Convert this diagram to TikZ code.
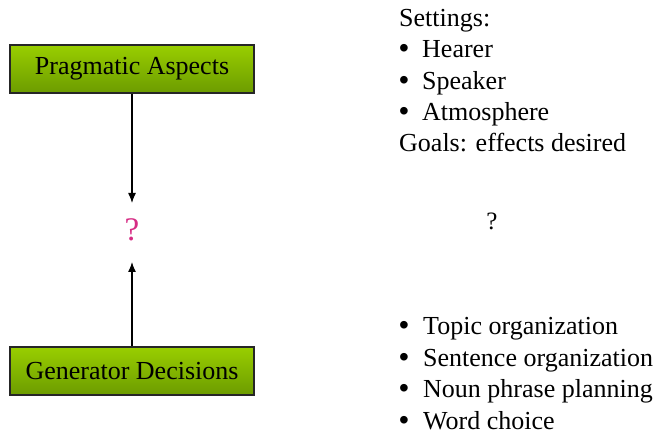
\documentclass[tikz,border=0pt]{standalone}
\usepackage{fontspec}
\setmainfont{Liberation Serif}
\newfontfamily\bulfont{Liberation Sans}
\usetikzlibrary{arrows.meta}
\definecolor{boxtop}{RGB}{153,206,0}
\definecolor{boxbot}{RGB}{108,156,0}
\definecolor{qpink}{RGB}{214,44,132}
\tikzset{
  greenbox/.style={draw=black!85, line width=1.3pt, top color=boxtop, bottom color=boxbot,
    minimum width=244pt, minimum height=48pt, inner sep=0pt,
    font=\fontsize{26}{30}\selectfont},
  txt/.style={anchor=base west, inner sep=0pt, font=\fontsize{26}{30}\selectfont},
  bul/.style={anchor=base, inner sep=0pt, font=\bulfont\fontsize{28}{30}\selectfont},
  conn/.style={line width=1.3pt, -{Latex[length=10pt,width=8pt]}},
}
\begin{document}
\begin{tikzpicture}[x=1pt,y=-1pt]
\useasboundingbox (0,0) rectangle (659,435);
\node[greenbox] (pa) at (132,69) {Pragmatic Aspects};
\node[greenbox] (gd) at (132,371) {Generator Decisions};
\node[inner sep=0pt, anchor=base, text=qpink, font=\fontsize{33}{36}\selectfont] (q) at (132,241) {?};
\coordinate (qt) at (132,203);
\coordinate (qb) at (132,262);
\draw[conn] (pa.south) -- (qt);
\draw[conn] (gd.north) -- (qb);
\node[inner sep=0pt, anchor=base, font=\fontsize{25}{28}\selectfont] (q2) at (492,230) {?};
% top list
\node[txt] (s) at (399,27) {Settings:};
\node[bul] (b1) at (404,58) {•};
\node[txt] (h) at (422,58) {Hearer};
\node[bul] (b2) at (404,90) {•};
\node[txt] (sp) at (422,90) {Speaker};
\node[bul] (b3) at (404,121) {•};
\node[txt] (at) at (422,121) {Atmosphere};
\node[txt] (g) at (399,152) {Goals: effects desired};
% bottom list
\node[bul] (c1) at (404,335) {•};
\node[txt] (t1) at (423,335) {Topic organization};
\node[bul] (c2) at (404,367) {•};
\node[txt] (t2) at (423,367) {Sentence organization};
\node[bul] (c3) at (404,398) {•};
\node[txt] (t3) at (423,398) {Noun phrase planning};
\node[bul] (c4) at (404,430) {•};
\node[txt] (t4) at (423,430) {Word choice};
\end{tikzpicture}
\end{document}
